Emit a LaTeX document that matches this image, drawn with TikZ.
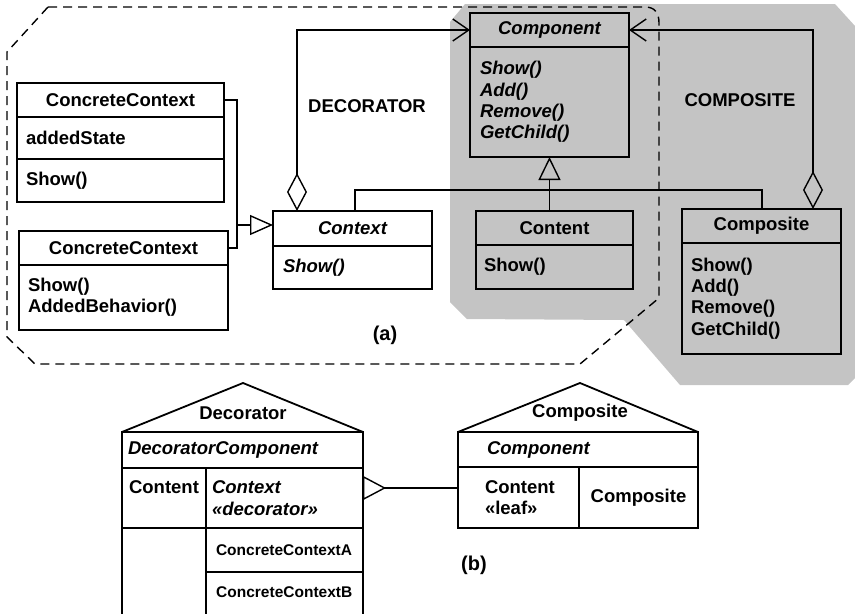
\documentclass[tikz,border=0pt]{standalone}
\usepackage{fontspec}
\setmainfont{Liberation Sans}
\usetikzlibrary{arrows.meta, positioning, shapes}
\definecolor{patgray}{gray}{0.77}

\begin{document}
\begin{tikzpicture}[x=1pt, y=-1pt, font=\fontsize{18.5}{21.3}\selectfont\bfseries]
  \tikzset{
    cname/.style={
      draw,
      line width=1.8pt,
      outer sep=0pt,
      inner sep=0pt,
      anchor=north west},
    cbody/.style={
      draw,
      line width=1.8pt,
      outer sep=0pt,
      inner xsep=9pt,
      inner ysep=0pt,
      align=left},
    cell/.style={
      draw,
      line width=1.8pt,
      outer sep=0pt,
      inner ysep=0pt,
      anchor=north west},
    conn/.style={line width=1.4pt},
    aggr/.style={
      conn,
      {Diamond[open, length=38pt, width=20pt]}-{Straight Barb[length=16pt, width=22pt]}},
    inherit/.style={
      conn,
      -{Triangle[open, length=23pt, width=22pt]}}}

  \useasboundingbox (0,0) rectangle (855,614);

  % (a): the two patterns
  \fill[patgray] (465,4) -- (835,4) -- (855,26) -- (855,378) -- (848,385) -- (680,385)
    -- (624,320) -- (467,319) -- (450,302) -- (450,22) -- cycle;
  \draw[conn, dash pattern=on 9pt off 6pt] (48,7) -- (645,7) .. controls (655,7) and (659,13) .. (659,23)
    -- (659,298) -- (580,364) -- (35,364) -- (7,337) -- (7,52) -- cycle;

  \node[cname, minimum width=207pt, minimum height=34pt] (cc1) at (17,83) {ConcreteContext};
  \node[cbody, minimum width=207pt, minimum height=42pt, text width=189pt, below=0pt of cc1] (cc1attr) {addedState};
  \node[cbody, minimum width=207pt, minimum height=43pt, text width=189pt, below=0pt of cc1attr] (cc1ops) {Show()};

  \node[cname, minimum width=209pt, minimum height=34pt] (cc2) at (19,231) {ConcreteContext};
  \node[cbody, minimum width=209pt, minimum height=65pt, text width=191pt, below=0pt of cc2] (cc2ops) {Show()\\AddedBehavior()};

  \node[cname, minimum width=159pt, minimum height=35pt] (ctx) at (273,211) {\itshape Context};
  \node[cbody, minimum width=159pt, minimum height=43pt, inner xsep=10pt, text width=139pt, below=0pt of ctx] (ctxops) {\itshape Show()};

  \node[cname, minimum width=159pt, minimum height=34pt] (comp) at (470,13) {\itshape Component};
  \node[cbody, minimum width=159pt, minimum height=110pt, inner xsep=10pt, text width=139pt, below=0pt of comp] (compops) {\itshape Show()\\Add()\\Remove()\\GetChild()};

  \node[cname, minimum width=157pt, minimum height=34pt] (cont) at (476,211) {Content};
  \node[cbody, minimum width=157pt, minimum height=44pt, inner xsep=8pt, text width=141pt, below=0pt of cont] (contops) {Show()};

  \node[cname, minimum width=159pt, minimum height=34pt] (cmps) at (682,209) {Composite};
  \node[cbody, minimum width=159pt, minimum height=111pt, text width=141pt, below=0pt of cmps] (cmpsops) {Show()\\Add()\\Remove()\\GetChild()};

  \node (declabel) at (367,106) {DECORATOR};
  \node (cmplabel) at (740,100) {COMPOSITE};
  \node[font=\fontsize{20}{24}\selectfont\bfseries] (alabel) at (385,335) {(a)};

  \coordinate (jn) at (237,225);
  \draw[conn] (cc1.east) -| (jn) |- (cc2.east);
  \draw[conn, -{Triangle[open, length=23pt, width=20pt]}] (jn) -- (jn -| ctx.west);

  \draw[aggr] ([xshift=24pt]ctx.north west) |- (comp.west);
  \draw[aggr] ([xshift=-28pt]cmps.north east) |- (comp.east);

  \draw[inherit] (cont.north -| compops.south) -- (compops.south);
  \coordinate (bar) at (548,190);
  \draw[conn] ([xshift=82pt]ctx.north west) |- (bar) -| ([xshift=80pt]cmps.north west);

  % (b): the two houses
  \node[cell, minimum width=241pt, minimum height=36pt, inner xsep=6pt, text width=229pt, align=left] (dcomp) at (122,432) {\itshape DecoratorComponent};
  \draw[line width=1.8pt] (dcomp.north west) -- (243,383) -- (dcomp.north east);
  \node (dechouse) at (243,413) {Decorator};
  \node[cell, minimum width=84pt, minimum height=60pt, align=center] (dcont) at (dcomp.south west) {Content\\~};
  \node[cell, minimum width=157pt, minimum height=60pt, inner xsep=6pt, text width=145pt, align=left] (dctx) at (dcont.north east) {\itshape Context\\«decorator»};
  \node[cell, minimum width=157pt, minimum height=44pt, inner xsep=10pt, text width=137pt, align=left,
    font=\fontsize{15.5}{18}\selectfont\bfseries] (dca) at (dctx.south west) {ConcreteContextA};
  \node[anchor=west, inner xsep=0pt, font=\fontsize{15.5}{18}\selectfont\bfseries] (dcb) at (216,592) {ConcreteContextB};
  \draw[line width=1.8pt] (dcont.south west) -- (122,614);
  \draw[line width=1.8pt] (dcont.south east) -- (206,614);
  \draw[line width=1.8pt] (dca.south west) -- (dca.south east) -- (363,614);

  \node[cell, minimum width=240pt, minimum height=35pt, inner xsep=29pt, text width=182pt, align=left] (ccomp) at (458,432) {\itshape Component};
  \draw[line width=1.8pt] (ccomp.north west) -- (580,383) -- (ccomp.north east);
  \node (cmphouse) at (580,413) {Composite};
  \node[cell, minimum width=121pt, minimum height=61pt, inner xsep=27pt, text width=67pt, align=left] (cmcont) at (ccomp.south west) {Content\\«leaf»};
  \node[cell, minimum width=119pt, minimum height=61pt] (cmcmp) at (cmcont.north east) {Composite};

  \coordinate (lk) at ([yshift=10pt]dctx.east);
  \draw[conn, {Triangle[open, reversed, length=23pt, width=24pt]}-] (lk) -- (lk -| cmcont.west);
  \node[font=\fontsize{20}{24}\selectfont\bfseries] (blabel) at (474,565) {(b)};

\end{tikzpicture}
\end{document}
